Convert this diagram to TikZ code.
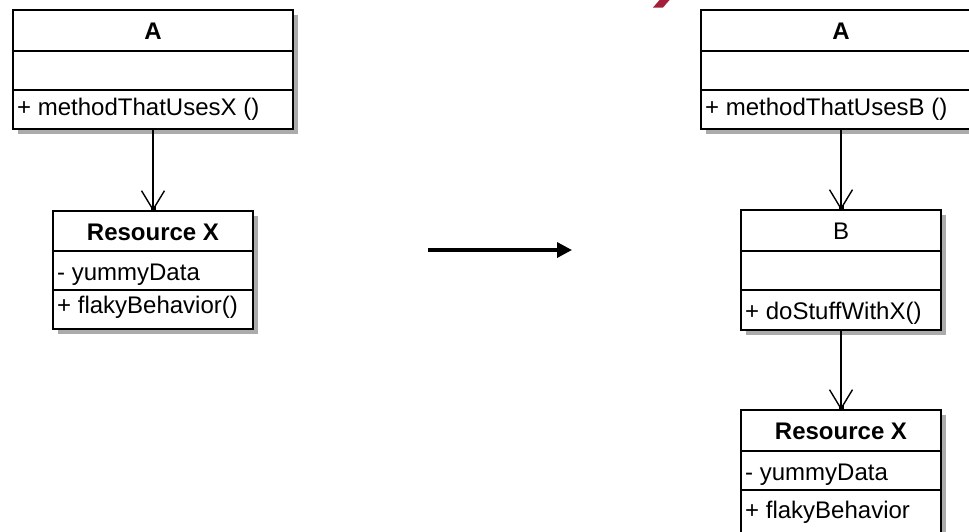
\documentclass[tikz,border=0pt]{standalone}
\usepackage{fontspec}
\setmainfont{Liberation Sans}
\usetikzlibrary{arrows.meta}
\definecolor{shadowgray}{HTML}{ABABAB}
\definecolor{accentred}{HTML}{A3203A}

\begin{document}
\begin{tikzpicture}[x=1pt,y=-1pt,
  every node/.style={font=\fontsize{24}{28}\selectfont},
  boxshape/.style={draw=black,line width=1.6pt,fill=white,inner sep=0pt,outer sep=0pt,anchor=north west},
  shadowfill/.style={fill=shadowgray},
  divider/.style={draw=black,line width=1.6pt},
  titletext/.style={anchor=base,inner sep=0pt,font=\fontsize{24}{28}\selectfont\bfseries},
  plaintitle/.style={anchor=base,inner sep=0pt},
  membertext/.style={anchor=base west,inner sep=0pt},
  assoc/.style={draw=black,line width=1.4pt,-{Straight Barb[length=19pt,width=23pt]}},
  tipsquare/.style={fill=black},
  bigarrow/.style={draw=black,line width=3.4pt,-{Triangle[length=15pt,width=15pt]}}
]
\useasboundingbox (0,0) rectangle (969,531);
\clip (0,0) rectangle (969,531);

% red accent at the top edge
\fill[accentred] (653,7.5) -- (663,7.5) -- (673,-4) -- (663,-4) -- cycle;

% ---- before: A uses Resource X directly ----
\fill[shadowfill] (18,15) rectangle (298,134);
\node[boxshape,minimum width=280pt,minimum height=119pt] (aL) at (13,10) {};
\draw[divider] (13,51) -- (293,51);
\draw[divider] (13,90) -- (293,90);
\node[titletext] (aL-name) at (153,39.3) {A};
\node[membertext] (aL-op) at (17,115) {+ methodThatUsesX ()};

\fill[shadowfill] (58,216) rectangle (258,334);
\node[boxshape,minimum width=200pt,minimum height=118pt] (rxL) at (53,211) {};
\draw[divider] (53,251) -- (253,251);
\draw[divider] (53,290) -- (253,290);
\node[titletext] (rxL-name) at (153,240.5) {Resource X};
\node[membertext] (rxL-attr) at (57,280) {- yummyData};
\node[membertext] (rxL-op) at (57,313.5) {+ flakyBehavior()};

\draw[assoc] (aL.south) -- (rxL.north);
\fill[tipsquare] (rxL.north) ++(-2.5,0) rectangle ++(5,-5);

% ---- refactoring arrow ----
\coordinate (from) at (428,250);
\coordinate (to) at (572,250);
\draw[bigarrow] (from) -- (to);

% ---- after: A uses B, B wraps Resource X ----
\fill[shadowfill] (706,15) rectangle (986,134);
\node[boxshape,minimum width=280pt,minimum height=119pt] (aR) at (701,10) {};
\draw[divider] (701,51) -- (981,51);
\draw[divider] (701,90) -- (981,90);
\node[titletext] (aR-name) at (841,39.3) {A};
\node[membertext] (aR-op) at (705,115) {+ methodThatUsesB ()};

\fill[shadowfill] (746,215) rectangle (946,335);
\node[boxshape,minimum width=200pt,minimum height=120pt] (bR) at (741,210) {};
\draw[divider] (741,251) -- (941,251);
\draw[divider] (741,290) -- (941,290);
\node[plaintitle] (bR-name) at (841,239.3) {B};
\node[membertext] (bR-op) at (745,319) {+ doStuffWithX()};

\fill[shadowfill] (746,415) rectangle (946,540);
\node[boxshape,minimum width=200pt,minimum height=123pt] (rxR) at (741,410) {};
\draw[divider] (741,451) -- (941,451);
\draw[divider] (741,490) -- (941,490);
\node[titletext] (rxR-name) at (841,439.3) {Resource X};
\node[membertext] (rxR-attr) at (745,480) {- yummyData};
\node[membertext] (rxR-op) at (745,518) {+ flakyBehavior};

\draw[assoc] (aR.south) -- (bR.north);
\fill[tipsquare] (bR.north) ++(-2.5,0) rectangle ++(5,-5);
\draw[assoc] (bR.south) -- (rxR.north);
\fill[tipsquare] (rxR.north) ++(-2.5,0) rectangle ++(5,-5);
\end{tikzpicture}
\end{document}
